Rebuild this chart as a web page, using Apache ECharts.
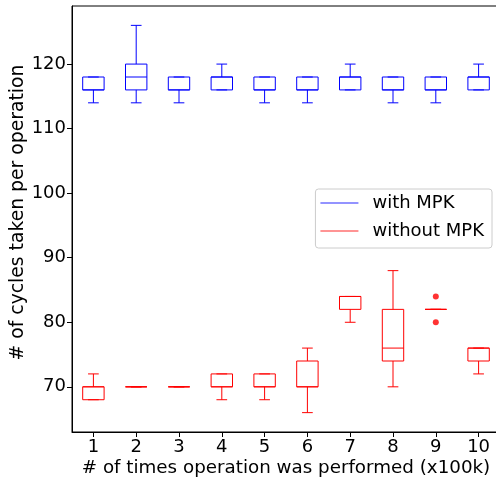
<!DOCTYPE html>
<html>
<head>
<meta charset="utf-8">
<script src="https://cdn.jsdelivr.net/npm/echarts@6/dist/echarts.min.js"></script>
<style>
  html, body { margin: 0; padding: 0; background: #fff; }
  #chart { width: 496px; height: 481px; }
</style>
</head>
<body>
<div id="chart"></div>
<script>
// x categories (x100k operations)
var categories = ['1', '2', '3', '4', '5', '6', '7', '8', '9', '10'];
var yTicks = [70, 80, 90, 100, 110, 120];

// [min, q1, median, q3, max] per category
var withMPK = [
  [114, 116, 116, 118, 118],
  [114, 116, 118, 120, 126],
  [114, 116, 116, 118, 118],
  [116, 116, 118, 118, 120],
  [114, 116, 116, 118, 118],
  [114, 116, 116, 118, 118],
  [116, 116, 118, 118, 120],
  [114, 116, 116, 118, 118],
  [114, 116, 116, 118, 118],
  [116, 116, 118, 118, 120]
];
var withoutMPK = [
  [68, 68, 70, 70, 72],
  [70, 70, 70, 70, 70],
  [70, 70, 70, 70, 70],
  [68, 70, 70, 72, 72],
  [68, 70, 70, 72, 72],
  [66, 70, 70, 74, 76],
  [80, 82, 84, 84, 84],
  [70, 74, 76, 82, 88],
  [82, 82, 82, 82, 82],
  [72, 74, 76, 76, 76]
];
// outliers [category index, value]
var withoutOutliers = [[8, 84], [8, 80]];

var chart = echarts.init(document.getElementById('chart'));

function toRows(list) {
  return list.map(function (v, i) { return [i].concat(v); });
}

// matplotlib-like box: half-width caps, thin outline
function renderBox(params, api) {
  var x = api.value(0);
  var color = api.visual('color');
  var bw = api.size([1, 0])[0] * 0.5;
  var cw = bw * 0.5;
  var pMin = api.coord([x, api.value(1)]);
  var pQ1 = api.coord([x, api.value(2)]);
  var pMed = api.coord([x, api.value(3)]);
  var pQ3 = api.coord([x, api.value(4)]);
  var pMax = api.coord([x, api.value(5)]);
  var cx = pQ1[0];
  var st = { stroke: color, lineWidth: 1, fill: null };
  function line(x1, y1, x2, y2) {
    return { type: 'line', shape: { x1: x1, y1: y1, x2: x2, y2: y2 }, style: st };
  }
  return {
    type: 'group',
    children: [
      { type: 'rect', shape: { x: cx - bw / 2, y: pQ3[1], width: bw, height: pQ1[1] - pQ3[1] }, style: st },
      line(cx - bw / 2, pMed[1], cx + bw / 2, pMed[1]),
      line(cx, pQ1[1], cx, pMin[1]),
      line(cx, pQ3[1], cx, pMax[1]),
      line(cx - cw / 2, pMin[1], cx + cw / 2, pMin[1]),
      line(cx - cw / 2, pMax[1], cx + cw / 2, pMax[1])
    ]
  };
}

var font = 'DejaVu Sans';

var option = {
  animation: false,
  textStyle: { fontFamily: font },
  grid: {
    left: 72, top: 6, width: 428, height: 426,
    outerBoundsMode: 'none',
    containLabel: false,
    show: true, borderColor: '#000', borderWidth: 1, backgroundColor: 'transparent'
  },
  legend: {
    orient: 'vertical',
    right: 4,
    top: 189,
    padding: [5, 8, 8, 5],
    itemGap: 10,
    itemWidth: 38,
    itemHeight: 1.5,
    backgroundColor: 'rgba(255,255,255,0.8)',
    borderColor: '#ccc',
    borderWidth: 1,
    borderRadius: 3,
    textStyle: { fontFamily: font, fontSize: 18, color: '#000', padding: [0, 0, 0, 9], lineHeight: 18 },
    data: [
      { name: 'with MPK', icon: 'rect', itemStyle: { color: '#6f6fff' } },
      { name: 'without MPK', icon: 'rect', itemStyle: { color: '#ff7070' } }
    ]
  },
  xAxis: {
    type: 'category',
    data: categories,
    boundaryGap: true,
    name: '# of times operation was performed (x100k)',
    nameLocation: 'middle',
    nameGap: 27,
    nameMoveOverlap: false,
    nameTextStyle: { fontFamily: font, fontSize: 18.3, color: '#000' },
    axisLine: { show: true, lineStyle: { color: '#000', width: 1 } },
    axisTick: { show: true, alignWithLabel: true, length: 5, lineStyle: { color: '#000' } },
    axisLabel: { fontFamily: font, fontSize: 18, color: '#000', margin: 6 },
    splitLine: { show: false }
  },
  yAxis: {
    type: 'value',
    min: 63,
    max: 129,
    name: '# of cycles taken per operation',
    nameLocation: 'middle',
    nameGap: 44,
    nameMoveOverlap: false,
    nameTextStyle: { fontFamily: font, fontSize: 18.8, color: '#000', padding: [0, 0, 0, 13] },
    axisLine: { show: true, lineStyle: { color: '#000', width: 1 } },
    axisTick: { show: true, length: 5, lineStyle: { color: '#000' }, customValues: yTicks },
    axisLabel: { fontFamily: font, fontSize: 18, color: '#000', margin: 6, customValues: yTicks },
    splitLine: { show: false }
  },
  series: [
    {
      name: 'with MPK',
      type: 'custom',
      itemStyle: { color: '#0000ff' },
      renderItem: renderBox,
      encode: { x: 0, y: [1, 2, 3, 4, 5] },
      data: toRows(withMPK)
    },
    {
      name: 'without MPK',
      type: 'custom',
      itemStyle: { color: '#ff0000' },
      renderItem: renderBox,
      encode: { x: 0, y: [1, 2, 3, 4, 5] },
      data: toRows(withoutMPK)
    },
    {
      name: 'outliers',
      type: 'scatter',
      symbol: 'circle',
      symbolSize: 6,
      itemStyle: { color: '#ff0000' },
      data: withoutOutliers
    }
  ]
};
chart.setOption(option);
</script>
</body>
</html>
